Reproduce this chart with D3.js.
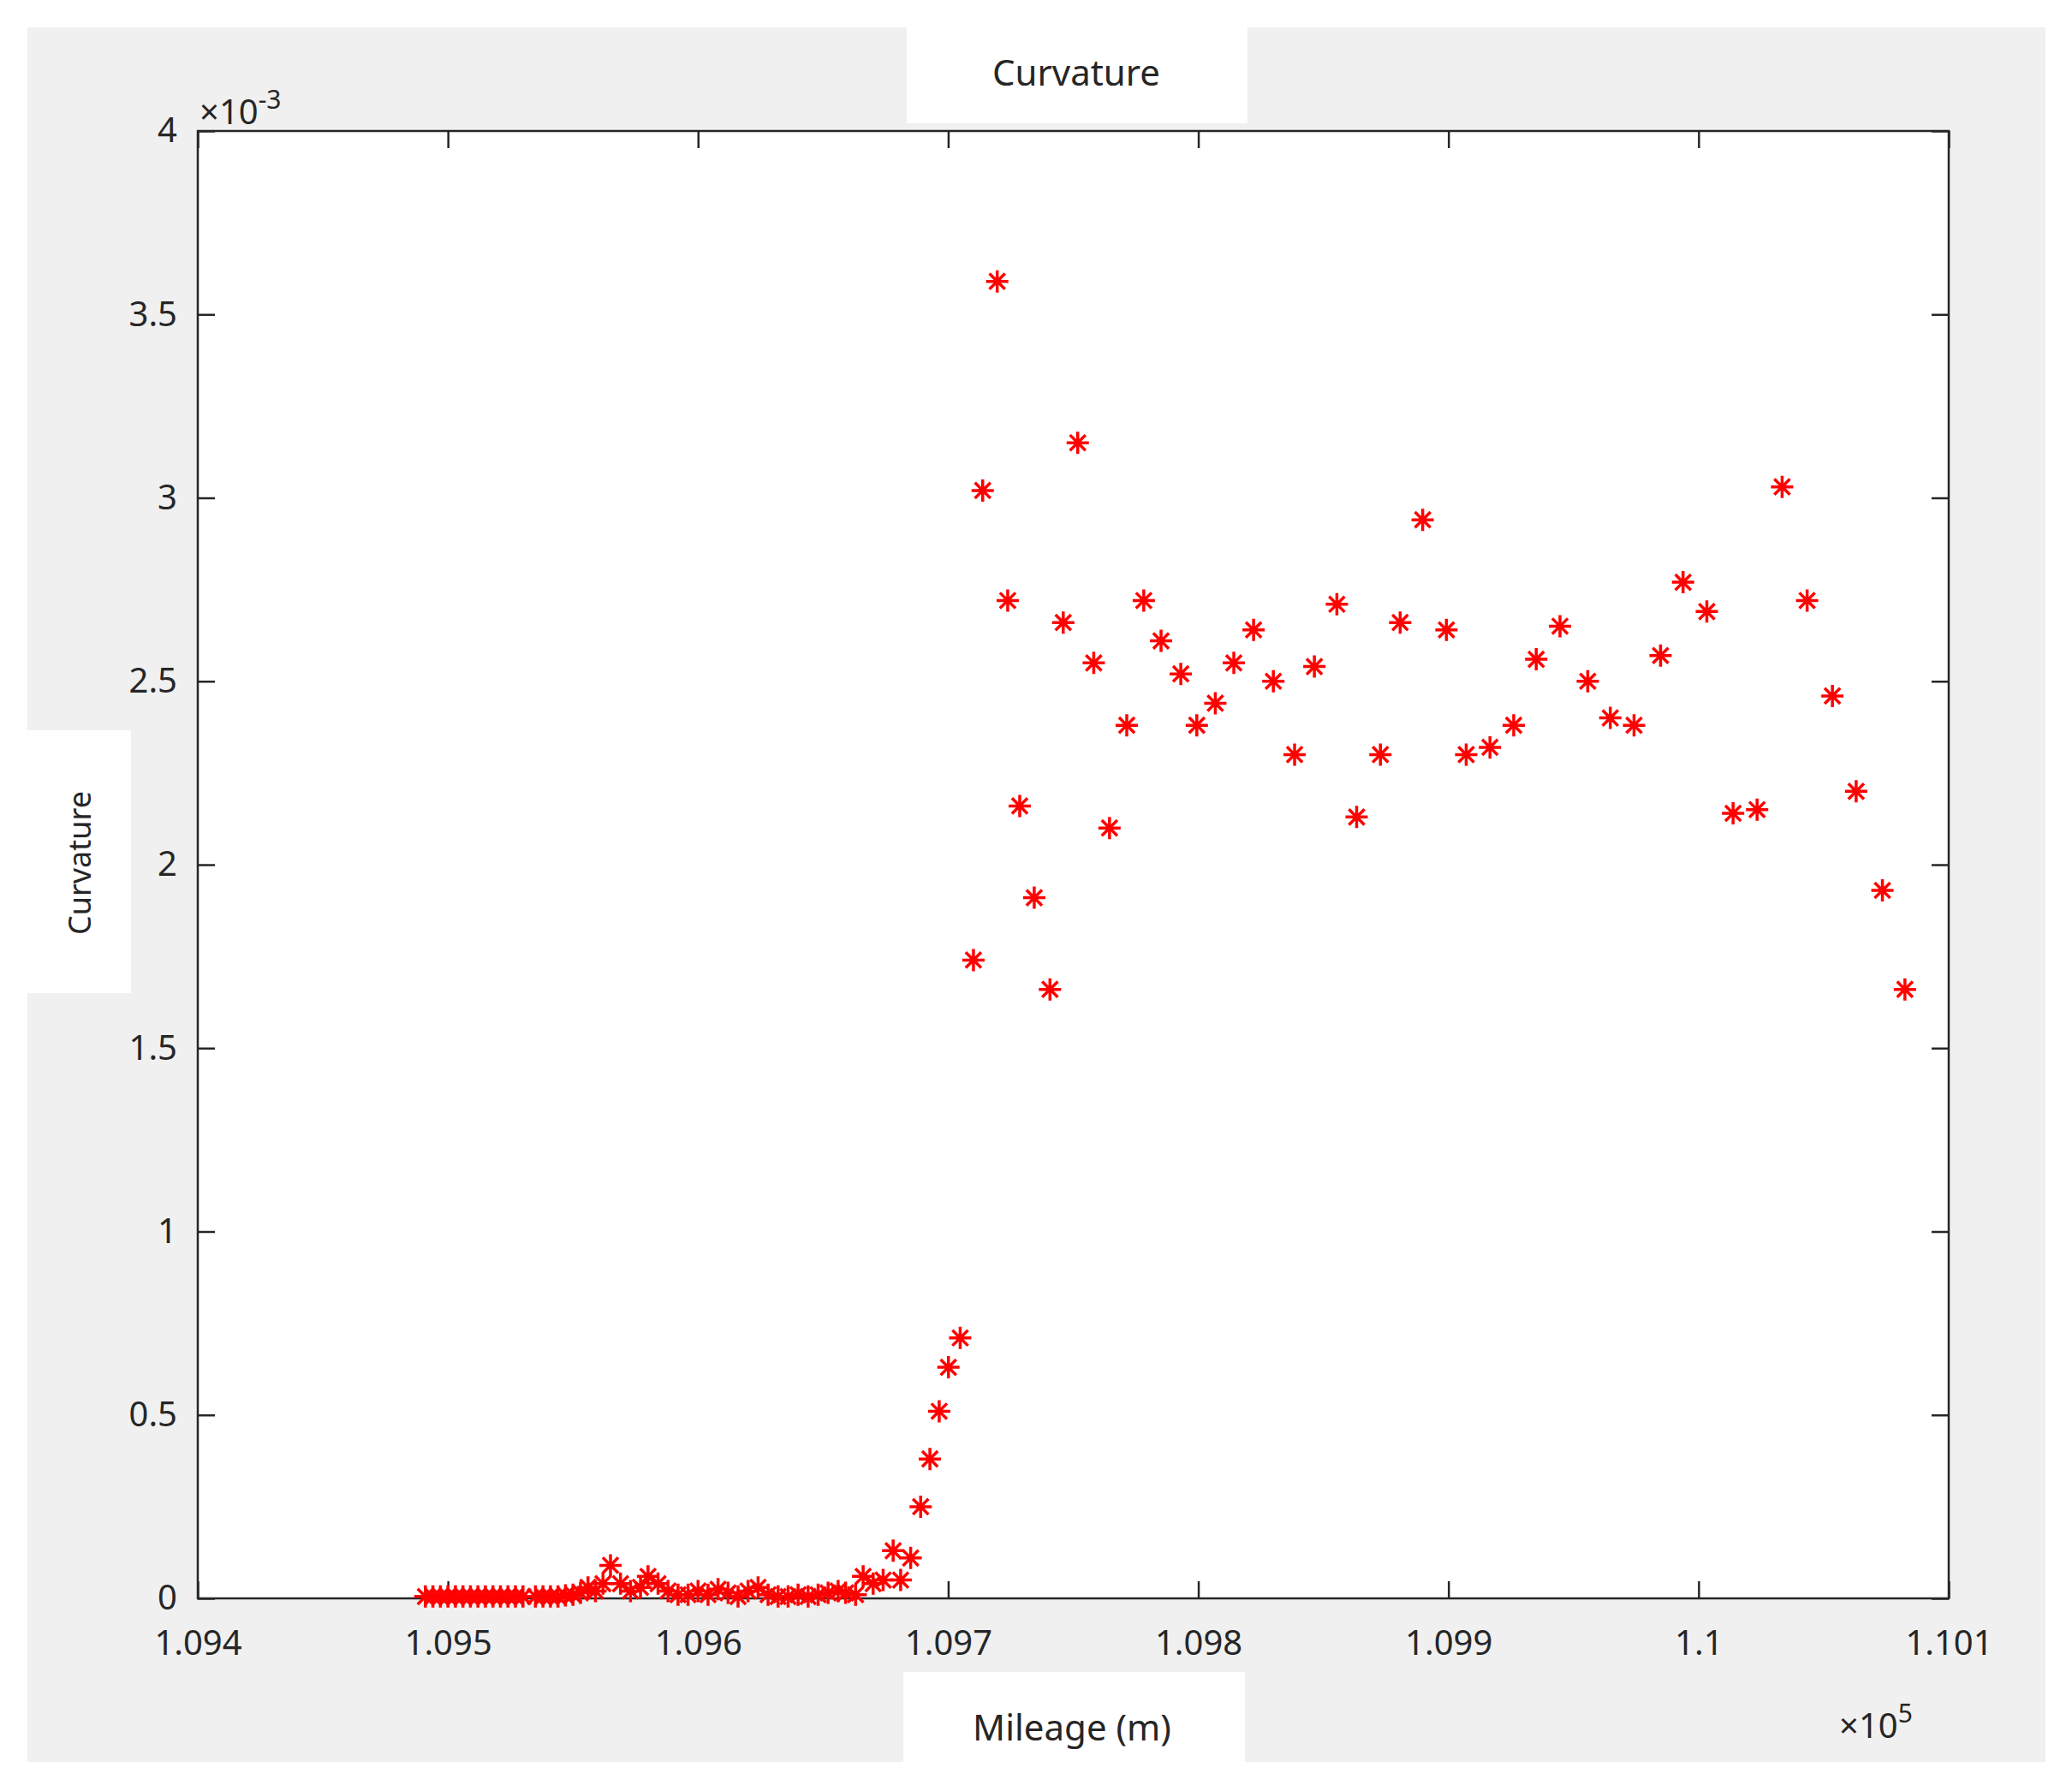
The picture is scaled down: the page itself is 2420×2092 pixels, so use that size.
<!DOCTYPE html>
<html>
<head>
<meta charset="utf-8">
<script src="https://cdn.jsdelivr.net/npm/d3@7"></script>
<style>
  body { margin: 0; background: #fff; }
  text { font-family: "Noto Sans", "Open Sans", sans-serif; fill: #262626; }
</style>
</head>
<body>
<div id="chart"></div>
<script>
// mileage (m) and curvature (x 1e-3)
const mileage = [
  109491, 109494, 109497, 109500, 109503, 109506, 109509, 109512, 109515, 109518,
  109521, 109524, 109527, 109530, 109535, 109538, 109541, 109544, 109547, 109550,
  109553, 109556, 109559, 109562, 109565, 109569, 109573, 109577, 109580, 109584,
  109588, 109592, 109596, 109600, 109604, 109608, 109612, 109616, 109620, 109624,
  109628, 109632, 109636, 109640, 109644, 109648, 109652, 109656, 109659, 109663,
  109666, 109670, 109674, 109678, 109681, 109685, 109689, 109692.7, 109696.4, 109700.1,
  109704.8,
  109710.1, 109713.8, 109719.6, 109723.8, 109728.6, 109734.4, 109740.7, 109746, 109751.8, 109758.2,
  109764.5, 109771.4, 109778.2, 109785.1, 109793, 109799.4, 109806.8, 109814.2, 109822.1, 109830,
  109838.5, 109846.4, 109855.4, 109863.3, 109872.8, 109880.7, 109889.7, 109899.2, 109907.1, 109916.6,
  109926.1, 109935.1, 109944.6, 109955.7, 109964.7, 109974.2, 109984.8, 109993.8, 110003.3, 110013.8,
  110023.4, 110033.4, 110043.4, 110053.5, 110063, 110073.5, 110082.5
];
const curvature = [
  0.005, 0.005, 0.005, 0.005, 0.005, 0.005, 0.005, 0.005, 0.005, 0.005,
  0.005, 0.005, 0.005, 0.005, 0.005, 0.005, 0.005, 0.005, 0.008, 0.01,
  0.015, 0.03, 0.02, 0.04, 0.09, 0.04, 0.02, 0.03, 0.06, 0.04,
  0.02, 0.01, 0.01, 0.02, 0.01, 0.025, 0.015, 0.005, 0.02, 0.03,
  0.01, 0.005, 0.005, 0.01, 0.005, 0.01, 0.015, 0.02, 0.015, 0.01,
  0.06, 0.04, 0.05, 0.13, 0.05, 0.11, 0.25, 0.38, 0.51, 0.63,
  0.71,
  1.74, 3.02, 3.59, 2.72, 2.16, 1.91, 1.66, 2.66, 3.15, 2.55,
  2.10, 2.38, 2.72, 2.61, 2.52, 2.38, 2.44, 2.55, 2.64, 2.50,
  2.30, 2.54, 2.71, 2.13, 2.30, 2.66, 2.94, 2.64, 2.30, 2.32,
  2.38, 2.56, 2.65, 2.50, 2.40, 2.38, 2.57, 2.77, 2.69, 2.14,
  2.15, 3.03, 2.72, 2.46, 2.20, 1.93, 1.66
];
const xTicks = [109400, 109500, 109600, 109700, 109800, 109900, 110000, 110100];
const xTickLabels = ['1.094', '1.095', '1.096', '1.097', '1.098', '1.099', '1.1', '1.101'];
const yTicks = [0, 0.5, 1, 1.5, 2, 2.5, 3, 3.5, 4];

const W = 2420, H = 2092;
const pLeft = 231, pRight = 2276, pTop = 153, pBottom = 1867;

const svg = d3.select('#chart').append('svg').attr('width', W).attr('height', H);

// figure background and white label patches
svg.append('rect').attr('x', 32).attr('y', 32).attr('width', 2357).attr('height', 2026).attr('fill', '#f0f0f0');
svg.append('rect').attr('x', 1059).attr('y', 32).attr('width', 398).attr('height', 112).attr('fill', '#fff');
svg.append('rect').attr('x', 32).attr('y', 853).attr('width', 121).attr('height', 307).attr('fill', '#fff');
svg.append('rect').attr('x', 1055).attr('y', 1953).attr('width', 399).attr('height', 105).attr('fill', '#fff');
svg.append('rect').attr('x', pLeft).attr('y', pTop).attr('width', pRight - pLeft).attr('height', pBottom - pTop).attr('fill', '#fff');

const x = d3.scaleLinear().domain([109400, 110100]).range([pLeft, pRight]);
const y = d3.scaleLinear().domain([0, 4]).range([pBottom, pTop]);

const tl = 20;
const style = g => {
  g.select('.domain').remove();
  g.selectAll('line').attr('stroke', '#262626').attr('stroke-width', 2.5);
};

svg.append('g').attr('transform', `translate(0,${pBottom})`)
  .call(d3.axisBottom(x).tickValues(xTicks).tickSizeInner(-tl).tickSizeOuter(0).tickPadding(30)
    .tickFormat((d, i) => xTickLabels[i]))
  .call(style)
  .selectAll('text').attr('font-size', 40).attr('dy', '0.9em');
svg.append('g').attr('transform', `translate(0,${pTop})`)
  .call(d3.axisTop(x).tickValues(xTicks).tickSizeInner(-tl).tickSizeOuter(0).tickFormat(''))
  .call(style);
svg.append('g').attr('transform', `translate(${pLeft},0)`)
  .call(d3.axisLeft(y).tickValues(yTicks).tickSizeInner(-tl).tickSizeOuter(0).tickPadding(24)
    .tickFormat(d3.format('')))
  .call(style)
  .selectAll('text').attr('font-size', 40);
svg.append('g').attr('transform', `translate(${pRight},0)`)
  .call(d3.axisRight(y).tickValues(yTicks).tickSizeInner(-tl).tickSizeOuter(0).tickFormat(''))
  .call(style);

svg.append('rect').attr('x', pLeft).attr('y', pTop).attr('width', pRight - pLeft).attr('height', pBottom - pTop)
  .attr('fill', 'none').attr('stroke', '#262626').attr('stroke-width', 2.5);

// asterisk markers
const r = 13;
const star = `M${-r},0H${r}M0,${-r}V${r}M${-r * 0.7},${-r * 0.7}L${r * 0.7},${r * 0.7}M${-r * 0.7},${r * 0.7}L${r * 0.7},${-r * 0.7}`;
svg.append('g').selectAll('path')
  .data(mileage.map((m, i) => [m, curvature[i]]))
  .enter()
  .append('path')
  .attr('d', star)
  .attr('transform', d => `translate(${x(d[0])},${y(d[1])})`)
  .attr('stroke', '#ff0000').attr('stroke-width', 3.5).attr('fill', 'none');

// labels
svg.append('text').attr('x', 1257).attr('y', 100).attr('text-anchor', 'middle').attr('font-size', 42).text('Curvature');
svg.append('text').attr('x', 1252).attr('y', 2033).attr('text-anchor', 'middle').attr('font-size', 42).text('Mileage (m)');
svg.append('text').attr('transform', 'translate(106,1008) rotate(-90)').attr('text-anchor', 'middle')
  .attr('font-size', 36).text('Curvature');

const e1 = svg.append('text').attr('x', 233).attr('y', 145).attr('font-size', 40);
e1.append('tspan').text('×10');
e1.append('tspan').attr('dy', -18).attr('font-size', 30).text('-3');
const e2 = svg.append('text').attr('x', 2148).attr('y', 2030).attr('font-size', 40);
e2.append('tspan').text('×10');
e2.append('tspan').attr('dy', -18).attr('font-size', 30).text('5');
</script>
</body>
</html>
